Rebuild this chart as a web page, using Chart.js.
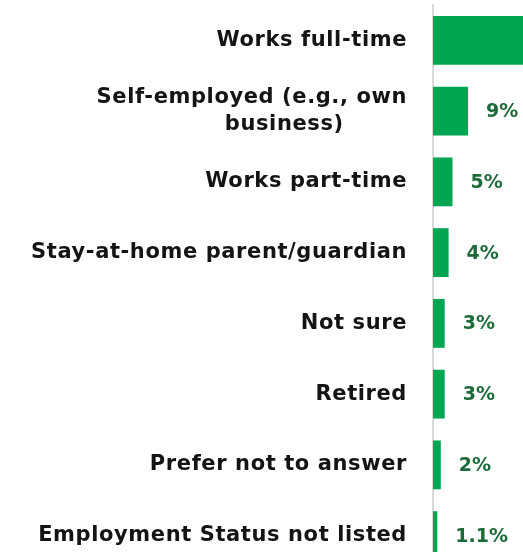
<!DOCTYPE html>
<html lang="en">
<head>
  <meta charset="UTF-8" />
  <title>Employment Status</title>
  <script src="https://cdn.jsdelivr.net/npm/chart.js"></script>
  <style>
    html, body { margin: 0; padding: 0; background: #fff; overflow: hidden; }
    .wrap { width: 523px; height: 552px; overflow: hidden; }
    .chart-box { position: relative; width: 830px; height: 575px; }
  </style>
</head>
<body>
  <div class="wrap">
    <div class="chart-box">
      <canvas id="statusChart"></canvas>
    </div>
  </div>
  <script>
    const categories = [
      'Works full-time',
      ['Self-employed (e.g., own', 'business)        '],
      'Works part-time',
      'Stay-at-home parent/guardian',
      'Not sure',
      'Retired',
      'Prefer not to answer',
      'Employment Status not listed'
    ];
    const shares = [73, 9, 5, 4, 3, 3, 2, 1.1];

    const GREEN = '#00a651';
    const LABEL_GREEN = '#1c6b38';
    const FONT = "'DejaVu Sans', sans-serif";

    function fmt(v) {
      return (Number.isInteger(v) ? v : v.toFixed(1)) + '%';
    }

    // slightly looser tracking for all canvas text
    const tracking = {
      id: 'tracking',
      beforeUpdate(chart) { chart.ctx.letterSpacing = '0.6px'; },
      beforeDraw(chart) { chart.ctx.letterSpacing = '0.6px'; }
    };

    // percent labels to the right of each bar
    const valueLabels = {
      id: 'valueLabels',
      afterDatasetsDraw(chart) {
        const { ctx } = chart;
        const meta = chart.getDatasetMeta(0);
        ctx.save();
        ctx.letterSpacing = '0px';
        ctx.font = 'bold 19px ' + FONT;
        ctx.fillStyle = LABEL_GREEN;
        ctx.textAlign = 'left';
        ctx.textBaseline = 'middle';
        meta.data.forEach((bar, i) => {
          ctx.fillText(fmt(shares[i]), bar.x + 18, bar.y + 1);
        });
        ctx.restore();
      }
    };

    new Chart(document.getElementById('statusChart'), {
      type: 'bar',
      data: {
        labels: categories,
        datasets: [{
          data: shares,
          backgroundColor: GREEN,
          barPercentage: 0.69,
          categoryPercentage: 1
        }]
      },
      options: {
        indexAxis: 'y',
        responsive: true,
        maintainAspectRatio: false,
        animation: false,
        layout: { padding: { top: 5, bottom: 4, right: 7 } },
        plugins: {
          legend: { display: false },
          tooltip: { enabled: false }
        },
        scales: {
          x: { display: false, min: 0, max: 100 },
          y: {
            grid: { display: false },
            border: { display: true, color: '#d9d9d9', width: 2 },
            afterFit(scale) {
              scale.width = 433;
              scale.paddingTop = 0;
              scale.paddingBottom = 0;
            },
            ticks: {
              padding: 18,
              color: '#141414',
              font: { family: FONT, size: 21, weight: 'bold', lineHeight: 1.25 }
            }
          }
        }
      },
      plugins: [tracking, valueLabels]
    });
  </script>
</body>
</html>
